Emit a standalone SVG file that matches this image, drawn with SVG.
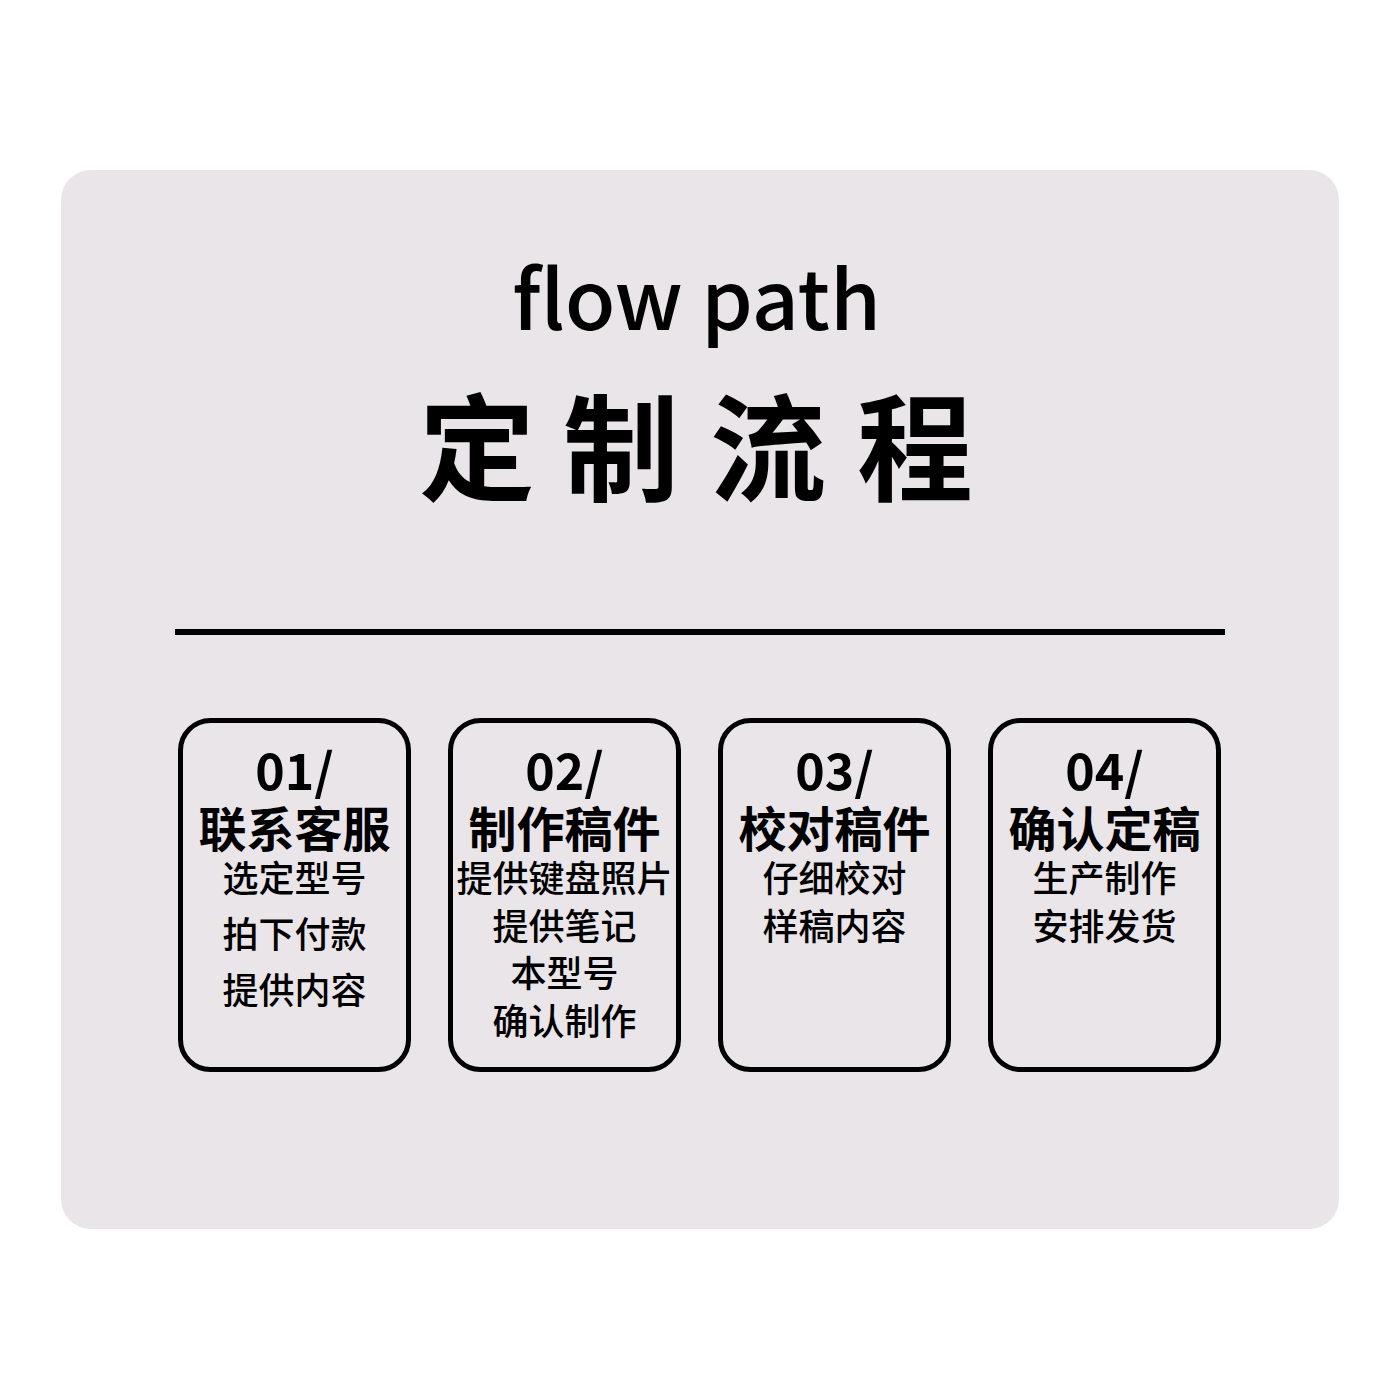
<svg xmlns="http://www.w3.org/2000/svg" width="1400" height="1400" viewBox="0 0 1400 1400">
<style>
.panel{fill:#e9e5e9}
.box{fill:none;stroke:#000;stroke-width:5}
.t{font-family:"Noto Sans CJK SC","Noto Sans",sans-serif;fill:#000;text-anchor:middle}
.num{font-size:50px;font-weight:700}
.head{font-size:48px;font-weight:700}
.sub{font-size:36px;font-weight:500}
</style>
<rect width="1400" height="1400" fill="#ffffff"/>
<rect class="panel" x="61" y="170" width="1278" height="1059" rx="30"/>
<g id="title">
<text class="t" x="696.5" y="330" font-size="82" font-weight="500">flow path</text>
<text class="t" x="477" y="492" font-size="116" font-weight="700">定</text>
<text class="t" x="621" y="492" font-size="116" font-weight="700">制</text>
<text class="t" x="768" y="492" font-size="116" font-weight="700">流</text>
<text class="t" x="915" y="492" font-size="116" font-weight="700">程</text>
</g>
<g id="divider">
<rect x="175" y="629" width="1050" height="6" fill="#000"/>
</g>
<g id="connectors"></g>
<g id="step1">
<rect class="box" x="180.5" y="720.5" width="228" height="349" rx="30"/>
<text class="t num" x="294.5" y="790">01/</text>
<text class="t head" x="294.5" y="847">联系客服</text>
<text class="t sub" x="294.5" y="892">选定型号</text>
<text class="t sub" x="294.5" y="948">拍下付款</text>
<text class="t sub" x="294.5" y="1004">提供内容</text>
</g>
<g id="step2">
<rect class="box" x="450.5" y="720.5" width="228" height="349" rx="30"/>
<text class="t num" x="564.5" y="790">02/</text>
<text class="t head" x="564.5" y="847">制作稿件</text>
<text class="t sub" x="564.5" y="892">提供键盘照片</text>
<text class="t sub" x="564.5" y="940">提供笔记</text>
<text class="t sub" x="564.5" y="987">本型号</text>
<text class="t sub" x="564.5" y="1035">确认制作</text>
</g>
<g id="step3">
<rect class="box" x="720.5" y="720.5" width="228" height="349" rx="30"/>
<text class="t num" x="834.5" y="790">03/</text>
<text class="t head" x="834.5" y="847">校对稿件</text>
<text class="t sub" x="834.5" y="892">仔细校对</text>
<text class="t sub" x="834.5" y="940">样稿内容</text>
</g>
<g id="step4">
<rect class="box" x="990.5" y="720.5" width="228" height="349" rx="30"/>
<text class="t num" x="1104.5" y="790">04/</text>
<text class="t head" x="1104.5" y="847">确认定稿</text>
<text class="t sub" x="1104.5" y="892">生产制作</text>
<text class="t sub" x="1104.5" y="940">安排发货</text>
</g>
</svg>
